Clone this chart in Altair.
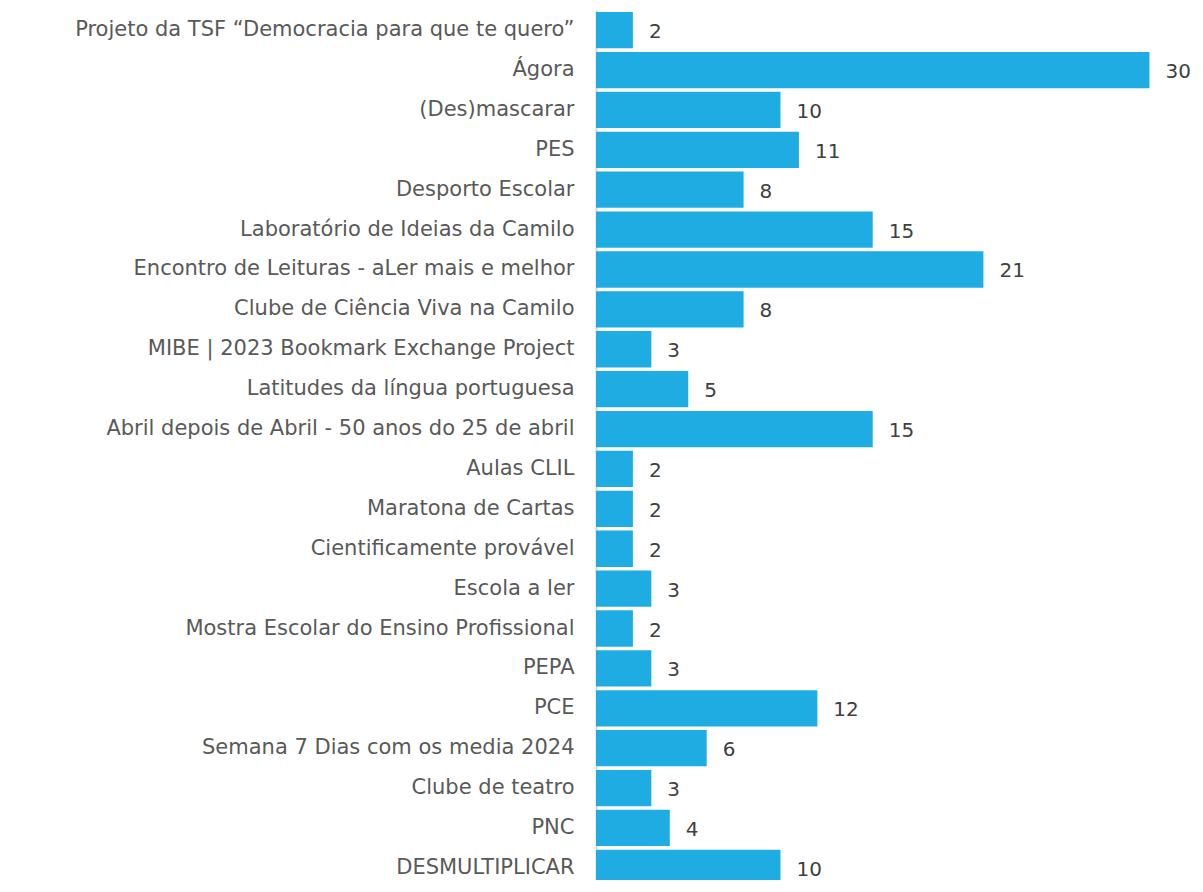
import altair as alt
import pandas as pd

categories = [
    "Projeto da TSF \u201cDemocracia para que te quero\u201d",
    "\u00c1gora",
    "(Des)mascarar",
    "PES",
    "Desporto Escolar",
    "Laborat\u00f3rio de Ideias da Camilo",
    "Encontro de Leituras - aLer mais e melhor",
    "Clube de Ci\u00eancia Viva na Camilo",
    "MIBE  |  2023 Bookmark Exchange Project ",
    "Latitudes da l\u00edngua portuguesa ",
    "Abril depois de Abril -  50 anos do 25 de abril",
    "Aulas CLIL",
    "Maratona de Cartas",
    "Cientificamente prov\u00e1vel",
    "Escola a ler",
    "Mostra Escolar do Ensino Profissional",
    "PEPA",
    "PCE",
    "Semana 7 Dias com os media 2024 ",
    "Clube  de teatro",
    "PNC",
    "DESMULTIPLICAR",
]
values = [2, 30, 10, 11, 8, 15, 21, 8, 3, 5, 15, 2, 2, 2, 3, 2, 3, 12, 6, 3, 4, 10]

df = pd.DataFrame({"category": categories, "value": values})

FONT = "DejaVu Sans"

y_enc = alt.Y(
    "category:N",
    sort=categories,
    scale=alt.Scale(paddingInner=0.09, paddingOuter=0.05, range=[0, 878]),
    axis=alt.Axis(
        title=None,
        ticks=False,
        labelPadding=22,
        labelFont=FONT,
        labelFontSize=21,
        labelColor="#595959",
        labelLimit=700,
        domainColor="#d9d9d9",
        domainWidth=2,
        grid=False,
    ),
)
x_enc = alt.X(
    "value:Q",
    scale=alt.Scale(domain=[0, 32.47], nice=False),
    axis=None,
)

bars = alt.Chart(df).mark_bar(color="#1eace2").encode(x=x_enc, y=y_enc)
labels = alt.Chart(df).mark_text(
    align="left", baseline="middle", dx=16, dy=2,
    font=FONT, fontSize=20, color="#404040"
).encode(x=x_enc, y=y_enc, text="value:Q")

chart = (
    alt.layer(bars, labels)
    .properties(
        width=599,
        height=870,
        autosize=alt.AutoSizeParams(type="none"),
        padding={"left": 588, "top": 2, "right": 0, "bottom": 0},
    )
    .configure_view(stroke=None)
)

chart.save("out.html", embed_options={"renderer": "svg", "actions": False})
